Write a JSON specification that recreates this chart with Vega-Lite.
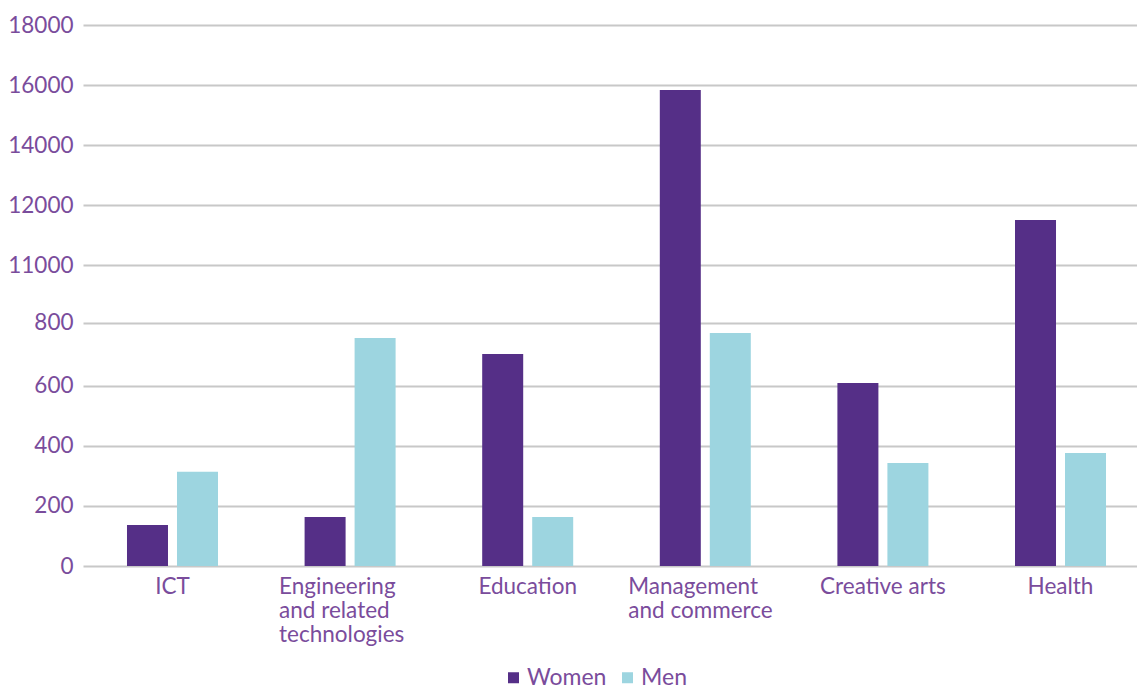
{
  "$schema": "https://vega.github.io/schema/vega-lite/v6.json",
  "width": 1054,
  "height": 541,
  "autosize": {"type": "none"},
  "padding": {"left": 83, "top": 25, "right": 0, "bottom": 120},
  "background": "white",
  "config": {
    "view": {"stroke": null},
    "font": "Lato"
  },
  "data": {
    "values": [
      {"field": "ICT", "gender": "Women", "value": 1364},
      {"field": "ICT", "gender": "Men", "value": 3137},
      {"field": "Engineering and related technologies", "gender": "Women", "value": 1630},
      {"field": "Engineering and related technologies", "gender": "Men", "value": 7586},
      {"field": "Education", "gender": "Women", "value": 7054},
      {"field": "Education", "gender": "Men", "value": 1630},
      {"field": "Management and commerce", "gender": "Women", "value": 15837},
      {"field": "Management and commerce", "gender": "Men", "value": 7752},
      {"field": "Creative arts", "gender": "Women", "value": 6089},
      {"field": "Creative arts", "gender": "Men", "value": 3427},
      {"field": "Health", "gender": "Women", "value": 11512},
      {"field": "Health", "gender": "Men", "value": 3760}
    ]
  },
  "mark": {"type": "bar"},
  "encoding": {
    "x": {
      "field": "field",
      "type": "nominal",
      "sort": ["ICT", "Engineering and related technologies", "Education", "Management and commerce", "Creative arts", "Health"],
      "scale": {"paddingInner": 0.48761, "paddingOuter": 0.2111, "align": 0.5867},
      "axis": {
        "title": null,
        "domain": false,
        "ticks": false,
        "grid": false,
        "labelAngle": 0,
        "labelFont": "Lato",
        "labelFontSize": 22.5,
        "labelColor": "#7a4c9c",
        "labelPadding": 9,
        "labelLineHeight": 24.3,
        "labelLimit": 300,
        "labelExpr": "datum.value == 'Engineering and related technologies' ? ['Engineering', 'and related', 'technologies'] : datum.value == 'Management and commerce' ? ['Management', 'and commerce'] : datum.value",
        "labelAlign": {
          "condition": {"test": "datum.value == 'Engineering and related technologies' || datum.value == 'Management and commerce'", "value": "left"},
          "value": "center"
        },
        "labelOffset": {
          "condition": [
            {"test": "datum.value == 'Engineering and related technologies'", "value": -71},
            {"test": "datum.value == 'Management and commerce'", "value": -77}
          ],
          "value": 0
        }
      }
    },
    "xOffset": {
      "field": "gender",
      "type": "nominal",
      "sort": ["Women", "Men"],
      "scale": {"paddingInner": 0.18, "paddingOuter": 0}
    },
    "y": {
      "field": "value",
      "type": "quantitative",
      "scale": {"domain": [0, 18000], "nice": false},
      "axis": {
        "title": null,
        "domain": false,
        "ticks": false,
        "grid": true,
        "gridColor": "#c8c8c8",
        "gridWidth": 2,
        "values": [0, 2000, 4000, 6000, 8090, 10000, 12000, 14000, 16000, 18000],
        "labelExpr": "datum.value == 8090 ? '800' : datum.value < 9000 ? format(datum.value / 10, 'd') : datum.value == 10000 ? '11000' : format(datum.value, 'd')",
        "labelFont": "Lato",
        "labelFontSize": 22.5,
        "labelColor": "#7a4c9c",
        "labelPadding": 10
      }
    },
    "color": {
      "field": "gender",
      "type": "nominal",
      "sort": ["Women", "Men"],
      "scale": {"domain": ["Women", "Men"], "range": ["#552f87", "#9dd5e0"]},
      "legend": {
        "title": null,
        "orient": "none",
        "direction": "horizontal",
        "legendX": 419,
        "legendY": 641,
        "padding": 0,
        "symbolType": "square",
        "symbolSize": 121,
        "symbolStrokeWidth": 0,
        "labelFont": "Lato",
        "labelFontSize": 23,
        "labelColor": "#7a4c9c",
        "labelOffset": 2,
        "columnPadding": 9
      }
    }
  }
}
